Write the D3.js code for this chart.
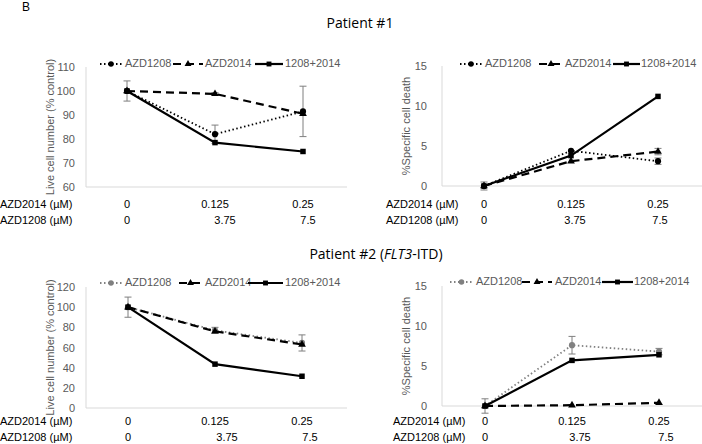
<!DOCTYPE html>
<html><head><meta charset="utf-8">
<script src="https://cdn.jsdelivr.net/npm/d3@7"></script>
<style>body{margin:0;background:#fff}svg{display:block}</style>
</head><body>
<script>
// ---- data ----
const doses2014 = ["0", "0.125", "0.25"];
const doses1208 = ["0", "3.75", "7.5"];
const seriesNames = ["AZD1208", "AZD2014", "1208+2014"];
const rowLabels = ["AZD2014 (\u00b5M)", "AZD1208 (\u00b5M)"];

// Patient #1
const p1LiveAZD1208 = [100, 82, 91.5];
const p1LiveAZD2014 = [100, 98.8, 90.5];
const p1LiveCombo   = [100, 78.5, 74.8];
const p1LiveErr1208 = [4.2, 3.8, 10.5];
const p1LiveErr2014 = [0, 0.5, 0];
const p1LiveErrCombo= [0, 0, 0];
const p1LiveTicks = [60, 70, 80, 90, 100, 110];

const p1DeathAZD1208 = [0, 4.4, 3.1];
const p1DeathAZD2014 = [0, 3.1, 4.3];
const p1DeathCombo   = [0, 3.8, 11.2];
const p1DeathErr1208 = [0.5, 0, 0.4];
const p1DeathErr2014 = [0, 0, 0.4];
const p1DeathErrCombo= [0, 0, 0];
const p1DeathTicks = [0, 5, 10, 15];

// Patient #2
const p2LiveAZD1208 = [100, 77, 64.5];
const p2LiveAZD2014 = [100, 76, 63];
const p2LiveCombo   = [100, 43.5, 31.5];
const p2LiveErr1208 = [10, 3, 8];
const p2LiveErr2014 = [0, 0, 0];
const p2LiveErrCombo= [0, 0, 0];
const p2LiveTicks = [0, 20, 40, 60, 80, 100, 120];

const p2DeathAZD1208 = [0, 7.6, 6.8];
const p2DeathAZD2014 = [0, 0.1, 0.4];
const p2DeathCombo   = [0, 5.7, 6.4];
const p2DeathErr1208 = [0.9, 1.1, 0.4];
const p2DeathErr2014 = [0, 0, 0];
const p2DeathErrCombo= [0, 0, 0];
const p2DeathTicks = [0, 5, 10, 15];

// ---- layout ----
const W = 702, H = 444;
const FONT = "'Liberation Sans', Arial, sans-serif";
const GRAY = "#595959";
const svg = d3.select("body").append("svg").attr("width", W).attr("height", H)
  .style("font-family", FONT);

svg.append("text").attr("x", 22).attr("y", 8).attr("dominant-baseline", "middle")
  .attr("font-size", 12).attr("fill", "#000").text("B");

svg.append("text").attr("x", 360).attr("y", 24).attr("text-anchor", "middle")
  .attr("dominant-baseline", "middle").attr("font-size", 14).attr("font-family", "'Open Sans', sans-serif")
  .attr("fill", "#000").text("Patient #1");

const t2 = svg.append("text").attr("x", 376).attr("y", 255).attr("text-anchor", "middle")
  .attr("dominant-baseline", "middle").attr("font-size", 14).attr("font-family", "'Open Sans', sans-serif")
  .attr("fill", "#000");
t2.append("tspan").text("Patient #2 (");
t2.append("tspan").attr("font-style", "italic").text("FLT3");
t2.append("tspan").text("-ITD)");

const panels = [
  { axisX: 86, xr: [83, 347], xEnd: 347, yDom: [60, 110], yr: [187, 67], ticks: p1LiveTicks,
    tickX: 75, ylab: "Live cell number (% control)", ylabX: 51, rowX: 0, rowY: [205, 221], row2Shift: [0, 10, 5],
    series: [p1LiveAZD1208, p1LiveAZD2014, p1LiveCombo], errs: [p1LiveErr1208, p1LiveErr2014, p1LiveErrCombo],
    gray1208: false, legY: 64, leg: [[100, 122, 125], [173, 203, 205], [255, 283, 285]] },
  { axisX: 442, xr: [440.5, 701.5], xEnd: 702, yDom: [0, 15], yr: [186, 66], ticks: p1DeathTicks,
    tickX: 427, ylab: "%Specific cell death", ylabX: 407, rowX: 386, rowY: [205, 221], row2Shift: [0, 4, 2],
    series: [p1DeathAZD1208, p1DeathAZD2014, p1DeathCombo], errs: [p1DeathErr1208, p1DeathErr2014, p1DeathErrCombo],
    gray1208: false, legY: 64, leg: [[460, 482, 485], [539, 563, 565], [613, 640, 641]] },
  { axisX: 86, xr: [84.5, 345.5], xEnd: 347, yDom: [0, 120], yr: [408, 287], ticks: p2LiveTicks,
    tickX: 75, ylab: "Live cell number (% control)", ylabX: 51, rowX: 0, rowY: [422, 438], row2Shift: [0, 12, 8],
    series: [p2LiveAZD1208, p2LiveAZD2014, p2LiveCombo], errs: [p2LiveErr1208, p2LiveErr2014, p2LiveErrCombo],
    gray1208: true, legY: 283, leg: [[100, 122, 125], [179, 202, 205], [248, 283, 285]] },
  { axisX: 442, xr: [441.5, 702.5], xEnd: 702, yDom: [0, 15], yr: [406, 286], ticks: p2DeathTicks,
    tickX: 427, ylab: "%Specific cell death", ylabX: 407, rowX: 393, rowY: [422, 438], row2Shift: [0, 8, 7],
    series: [p2DeathAZD1208, p2DeathAZD2014, p2DeathCombo], errs: [p2DeathErr1208, p2DeathErr2014, p2DeathErrCombo],
    gray1208: true, legY: 282, leg: [[450, 473, 476], [522, 552, 555], [602, 633, 634]] }
];

function styleFor(i, p) {
  const c = (i === 0 && p.gray1208) ? "#808080" : "#000";
  if (i === 0) return { color: c, dash: "1.5,2.5", width: 1.8, sym: d3.symbolCircle, size: 30 };
  if (i === 1) return { color: c, dash: "8,5", width: 2.2, sym: d3.symbolTriangle, size: 26 };
  return { color: c, dash: null, width: 2.2, sym: d3.symbolSquare, size: 30 };
}

panels.forEach(p => {
  const g = svg.append("g");
  const x = d3.scalePoint().domain(doses2014).range(p.xr).padding(0.5);
  const y = d3.scaleLinear().domain(p.yDom).range(p.yr);

  // axis lines
  g.append("line").attr("x1", p.axisX).attr("x2", p.axisX).attr("y1", y(p.yDom[1])).attr("y2", y(p.yDom[0]))
    .attr("stroke", "#d9d9d9").attr("stroke-width", 1);
  g.append("line").attr("x1", p.axisX).attr("x2", p.xEnd).attr("y1", y(p.yDom[0])).attr("y2", y(p.yDom[0]))
    .attr("stroke", "#d9d9d9").attr("stroke-width", 1);

  // y tick labels via axis
  const ya = d3.axisLeft(y).tickValues(p.ticks).tickSize(0).tickPadding(0);
  const ag = g.append("g").attr("transform", `translate(${p.tickX},0)`).attr("color", GRAY).call(ya);
  ag.select(".domain").remove();
  ag.selectAll("text").attr("fill", GRAY).attr("font-size", 11).attr("font-family", FONT);

  // y label
  const cy = (y(p.yDom[0]) + y(p.yDom[1])) / 2;
  g.append("text").attr("transform", `translate(${p.ylabX},${cy}) rotate(-90)`).attr("text-anchor", "middle")
    .attr("dominant-baseline", "middle").attr("font-size", 11).attr("fill", GRAY).text(p.ylab);

  // row labels (category axis)
  [doses2014, doses1208].forEach((arr, r) => {
    g.append("text").attr("x", p.rowX).attr("y", p.rowY[r]).attr("dominant-baseline", "middle")
      .attr("font-size", 11).attr("fill", "#000").text(rowLabels[r]);
    arr.forEach((v, j) => {
      g.append("text").attr("x", x(doses2014[j]) + (r === 1 ? p.row2Shift[j] : 0)).attr("y", p.rowY[r])
        .attr("text-anchor", "middle").attr("dominant-baseline", "middle")
        .attr("font-size", 11).attr("fill", "#000").text(v);
    });
  });

  // error bars
  p.series.forEach((s, i) => {
    p.errs[i].forEach((e, j) => {
      if (!e) return;
      const xx = x(doses2014[j]);
      const y1 = y(s[j] + e), y2 = y(s[j] - e);
      g.append("line").attr("x1", xx).attr("x2", xx).attr("y1", y1).attr("y2", y2).attr("stroke", "#7f7f7f").attr("stroke-width", 1);
      [y1, y2].forEach(yy => g.append("line").attr("x1", xx - 3.5).attr("x2", xx + 3.5).attr("y1", yy).attr("y2", yy)
        .attr("stroke", "#7f7f7f").attr("stroke-width", 1));
    });
  });

  // lines + markers
  const line = d3.line().x((d, j) => x(doses2014[j])).y(d => y(d));
  p.series.forEach((s, i) => {
    const st = styleFor(i, p);
    g.append("path").datum(s).attr("d", line).attr("fill", "none").attr("stroke", st.color)
      .attr("stroke-width", st.width).attr("stroke-dasharray", st.dash);
    g.selectAll(null).data(s).enter().append("path")
      .attr("transform", (d, j) => `translate(${x(doses2014[j])},${y(d)})`)
      .attr("d", d3.symbol().type(st.sym).size(st.size)).attr("fill", st.color);
  });

  // legend
  seriesNames.forEach((n, i) => {
    const st = styleFor(i, p);
    const [a, b, tx] = p.leg[i];
    g.append("line").attr("x1", a).attr("x2", b).attr("y1", p.legY).attr("y2", p.legY)
      .attr("stroke", st.color).attr("stroke-width", st.width).attr("stroke-dasharray", st.dash);
    g.append("path").attr("transform", `translate(${(a + b) / 2},${p.legY})`)
      .attr("d", d3.symbol().type(st.sym).size(st.size * 0.8)).attr("fill", st.color);
    g.append("text").attr("x", tx).attr("y", p.legY).attr("dominant-baseline", "middle")
      .attr("font-size", 11).attr("fill", GRAY).text(n);
  });
});
</script>
</body></html>
